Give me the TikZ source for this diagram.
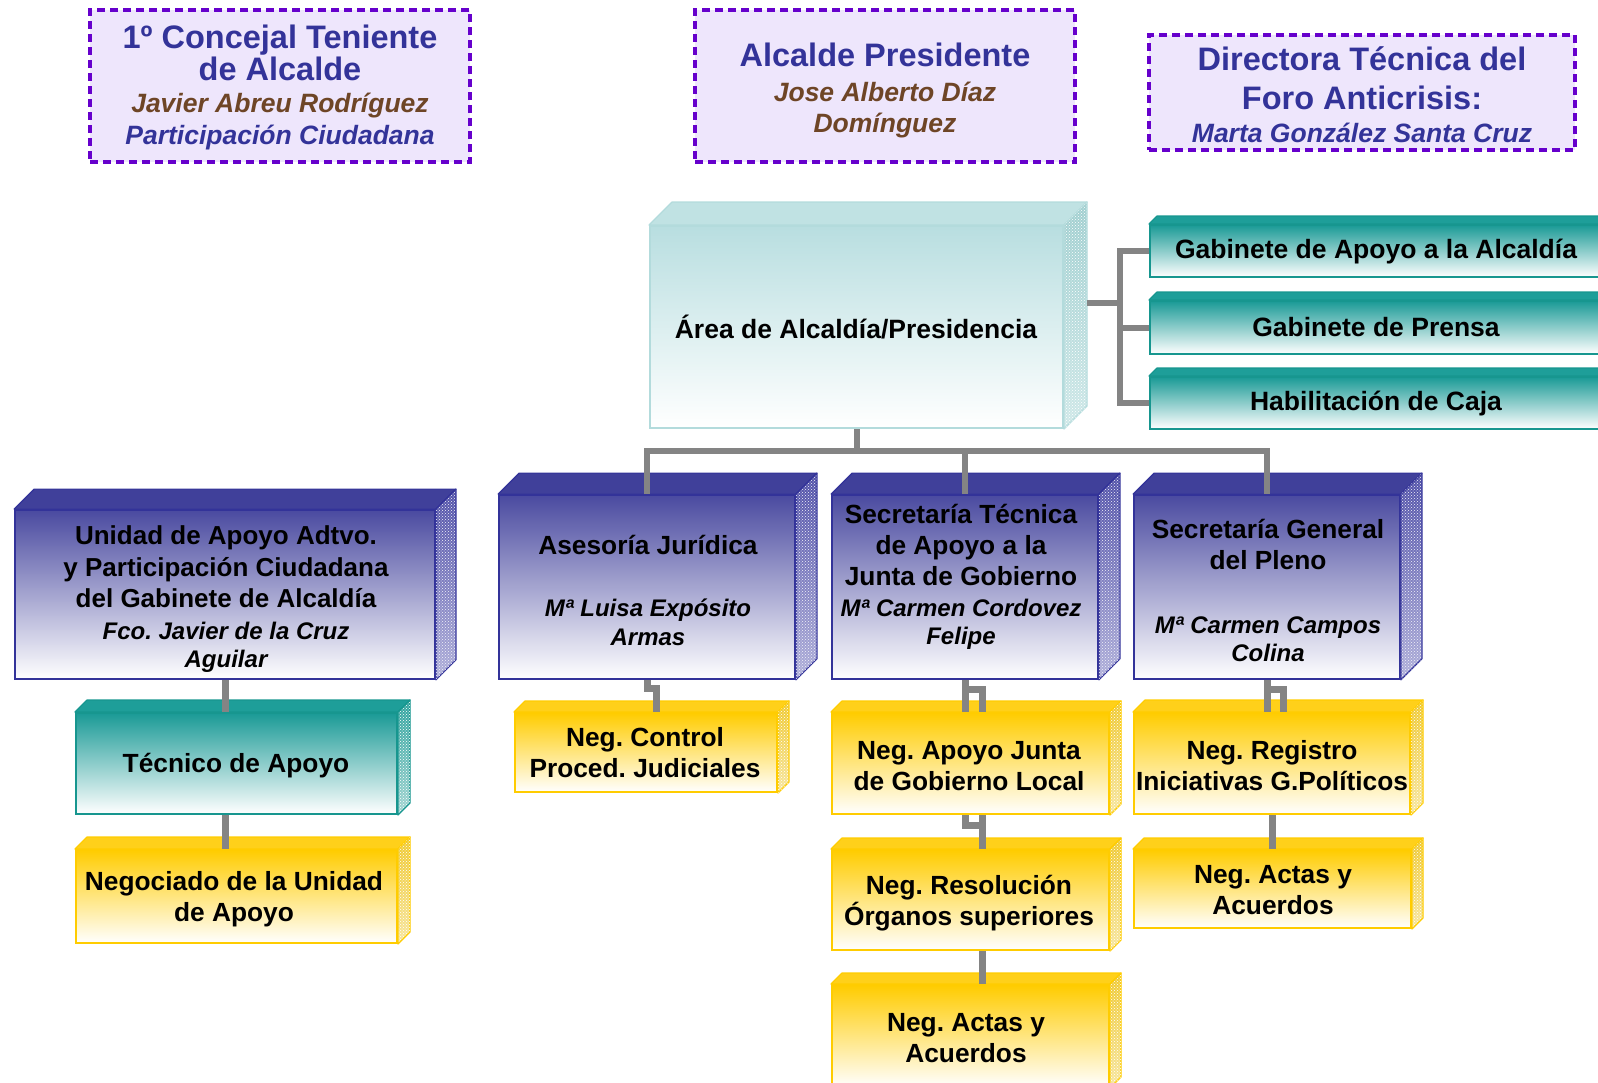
\documentclass[tikz,border=0pt]{standalone}
\usepackage{fontspec}
\setmainfont{Liberation Sans}
\usetikzlibrary{calc,patterns}
\frenchspacing

\definecolor{dblue}{HTML}{333399}
\definecolor{brownname}{HTML}{6E4526}
\definecolor{dashpurple}{HTML}{6600CC}
\definecolor{lavender}{HTML}{EEE6FC}
\definecolor{bfront}{HTML}{4A4AA0}
\definecolor{btop}{HTML}{40409A}
\definecolor{bsideA}{HTML}{5050A8}
\definecolor{bsideB}{HTML}{B0B0DA}
\definecolor{yfront}{HTML}{FFCC00}
\definecolor{ytop}{HTML}{FFD01A}
\definecolor{ysideA}{HTML}{EFC930}
\definecolor{ysideB}{HTML}{F7E6A0}
\definecolor{tfront}{HTML}{1A9A96}
\definecolor{tborder}{HTML}{17968F}
\definecolor{ttop}{HTML}{1E9E99}
\definecolor{tsideA}{HTML}{2FA39E}
\definecolor{tsideB}{HTML}{A5D6D3}
\definecolor{afront}{HTML}{B8DEE0}
\definecolor{aborder}{HTML}{B3DBDC}
\definecolor{atop}{HTML}{C0E2E3}
\definecolor{asideA}{HTML}{A0CFD0}
\definecolor{asideB}{HTML}{CFE8E8}
\definecolor{connc}{HTML}{848484}

\tikzset{
  dashbox/.style={fill=lavender, draw=dashpurple, line width=3.8pt, dash pattern=on 8pt off 5pt, inner sep=0pt},
  txt/.style={align=center, inner sep=0pt, font=\bfseries\fontsize{26.3}{31}\selectfont},
  hdtxt/.style={align=center, inner sep=0pt, text=dblue, font=\bfseries\fontsize{32.5}{32}\selectfont},
  blfront/.style={top color=bfront, bottom color=white, draw=dblue, line width=1.8pt, inner sep=0pt},
  bltop/.style={fill=btop, draw=dblue, line width=1.2pt, line join=round},
  blside/.style={top color=bsideA, bottom color=bsideB, draw=dblue, line width=1.2pt, line join=round, postaction={pattern=crosshatch dots, pattern color=white!85!bsideB}},
  ylfront/.style={top color=yfront, bottom color=white, draw=yfront, line width=2pt, inner sep=0pt},
  yltop/.style={fill=ytop, draw=yfront, line width=1.2pt, line join=round},
  ylside/.style={top color=ysideA, bottom color=ysideB, draw=yfront, line width=1.2pt, line join=round, postaction={pattern=crosshatch dots, pattern color=white}},
  tlfront/.style={top color=tfront, bottom color=white, draw=tborder, line width=2pt, inner sep=0pt},
  tltop/.style={fill=ttop, draw=tborder, line width=1.2pt, line join=round},
  tlside/.style={top color=tsideA, bottom color=tsideB, draw=tborder, line width=1.2pt, line join=round, postaction={pattern=crosshatch dots, pattern color=white}},
  aqfront/.style={top color=afront, bottom color=white, draw=aborder, line width=2pt, inner sep=0pt},
  aqtop/.style={fill=atop, draw=aborder, line width=1.2pt, line join=round},
  aqside/.style={top color=asideA, bottom color=asideB, draw=aborder, line width=1.2pt, line join=round, postaction={pattern=crosshatch dots, pattern color=white}},
  conn/.style={draw=connc, line width=6pt, line join=miter},
  connj/.style={draw=connc, line width=7pt, line join=miter},
}

\newcommand\cube[6]{%
  \node[#6front, minimum width=#3, minimum height=#4] (#1) at #2 {};
  \path[#6top] (#1.north west) -- ++(#5,-#5) -- ($(#1.north east)+(#5,-#5)$) -- (#1.north east) -- cycle;
  \path[#6side] (#1.north east) -- ++(#5,-#5) -- ($(#1.south east)+(#5,-#5)$) -- (#1.south east) -- cycle;
}
\newcommand\nm[1]{{\fontsize{24}{28}\selectfont\itshape #1}}
\newcommand\hn[1]{{\fontsize{26.5}{32}\selectfont\itshape #1}}

\begin{document}
\begin{tikzpicture}[x=1pt,y=-1pt]
\useasboundingbox (0,0) rectangle (1598,1082);
\clip (0,0) rectangle (1598,1082);

% header boxes
\node[dashbox, minimum width=380, minimum height=152] (conc) at (280,86) {};
\node[hdtxt] (conc-t) at (280,87) {1º Concejal Teniente\\de Alcalde\\\textcolor{brownname}{\hn{Javier Abreu Rodríguez}}\\\hn{Participación Ciudadana}};

\node[dashbox, minimum width=380, minimum height=152] (alc) at (885,86) {};
\node[hdtxt, font=\bfseries\fontsize{32.5}{33}\selectfont] (alc-t) at (885,90) {Alcalde Presidente\\[2pt]\textcolor{brownname}{\hn{Jose Alberto Díaz}}\\[-2pt]\textcolor{brownname}{\hn{Domínguez}}};

\node[dashbox, minimum width=426, minimum height=115] (dir) at (1362,92.5) {};
\node[hdtxt, font=\bfseries\fontsize{32.5}{39}\selectfont] (dir-t) at (1362,95) {Directora Técnica del\\Foro Anticrisis:\\[-6pt]\hn{Marta González Santa Cruz}};

% boxes
\cube{area}{(856.5,327)}{413}{202}{23}{aq}
\cube{gabA}{(1377,251)}{454}{52}{8}{tl}
\cube{gabB}{(1377,327.5)}{454}{53}{8}{tl}
\cube{gabC}{(1377,403)}{454}{52}{8}{tl}
\cube{uni}{(225,594.5)}{420}{169}{20}{bl}
\cube{ase}{(647,587)}{296}{184}{21}{bl}
\cube{stec}{(965,587)}{266}{184}{21}{bl}
\cube{sgen}{(1267,587)}{266}{184}{21}{bl}
\cube{tec}{(236.5,763.5)}{321}{101}{12}{tl}
\cube{negu}{(236.5,896.5)}{321}{93}{12}{yl}
\cube{ctrl}{(646,752.5)}{262}{79}{11}{yl}
\cube{apj}{(970.5,763.5)}{277}{101}{11}{yl}
\cube{res}{(970.5,900)}{277}{100}{11}{yl}
\cube{actA}{(970.5,1036)}{277}{102}{11}{yl}
\cube{reg}{(1272,763.5)}{276}{101}{12}{yl}
\cube{actB}{(1272.5,889)}{277}{78}{11}{yl}

% texts
\node[txt, font=\bfseries\fontsize{26.5}{31}\selectfont] (area-t) at (856,327) {Área de Alcaldía/Presidencia};
\node[txt, font=\bfseries\fontsize{26.5}{31}\selectfont] (gabA-t) at (1376,252) {Gabinete de Apoyo a la Alcaldía};
\node[txt, font=\bfseries\fontsize{26.5}{31}\selectfont] (gabB-t) at (1376,327) {Gabinete de Prensa};
\node[txt, font=\bfseries\fontsize{26.5}{31}\selectfont] (gabC-t) at (1376,404) {Habilitación de Caja};
\node[txt, font=\bfseries\fontsize{26}{31.5}\selectfont] (uni-t) at (226,599) {Unidad de Apoyo Adtvo.\\y Participación Ciudadana\\del Gabinete de Alcaldía\\\nm{Fco. Javier de la Cruz}\\[-3.5pt]\nm{Aguilar}};
\node[txt] (ase-t) at (648,590) {Asesoría Jurídica\\[31pt]\nm{Mª Luisa Expósito}\\[-2pt]\nm{Armas}};
\node[txt] (stec-t) at (961,576.5) {Secretaría Técnica\\de Apoyo a la\\Junta de Gobierno\\\nm{Mª Carmen Cordovez}\\[-3pt]\nm{Felipe}};
\node[txt] (sgen-t) at (1268,590.5) {Secretaría General\\del Pleno\\[33pt]\nm{Mª Carmen Campos}\\[-3pt]\nm{Colina}};
\node[txt] (tec-t) at (236,765.5) {Técnico de Apoyo};
\node[txt] (negu-t) at (234,899) {Negociado de la Unidad\\de Apoyo};
\node[txt] (ctrl-t) at (645,753) {Neg. Control\\Proced. Judiciales};
\node[txt] (apj-t) at (969,766) {Neg. Apoyo Junta\\de Gobierno Local};
\node[txt] (res-t) at (969,903) {Neg. Resolución\\Órganos superiores};
\node[txt] (actA-t) at (966,1038) {Neg. Actas y\\Acuerdos};
\node[txt] (reg-t) at (1272,766) {Neg. Registro\\Iniciativas G.Políticos};
\node[txt] (actB-t) at (1273,890) {Neg. Actas y\\Acuerdos};

% connectors
\coordinate (busr) at ($(area.east)+(56,-24)$);
\draw[conn] ($(area.east)+(23,-24)$) -- (busr);
\draw[conn] (gabA.west) -| (busr) |- (gabC.west);
\draw[conn] (busr |- gabB.west) -- (gabB.west);

\coordinate (busd) at ($(area.south)+(0,22)$);
\draw[conn] (area.south) -- (busd);
\draw[conn] (ase.north) |- (busd) -| (sgen.north);
\draw[conn] (stec.north) -- (stec.north |- busd);

\draw[connj] (uni.south) -- (uni.south |- tec.north);
\draw[connj] (uni.south |- tec.south) -- (uni.south |- negu.north);

\draw[connj] (ase.south) -- ++(0,9) -| ($(ctrl.north)+(10,0)$);

\draw[connj] (stec.south) -- (stec.south |- apj.north);
\draw[connj] (stec.south) -- ++(0,10) -| ($(apj.north)+(12,0)$);
\draw[connj] ($(apj.south)+(-5.5,0)$) -- ++(0,10) -| ($(res.north)+(12,0)$);
\draw[connj] ($(apj.south)+(12,0)$) -- ($(res.north)+(12,0)$);
\draw[connj] ($(res.south)+(12,0)$) -- ($(actA.north)+(12,0)$);

\draw[connj] (sgen.south) -- (sgen.south |- reg.north);
\draw[connj] (sgen.south) -- ++(0,10) -| ($(reg.north)+(11,0)$);
\draw[connj] (reg.south) -- (reg.south |- actB.north);
\end{tikzpicture}
\end{document}
